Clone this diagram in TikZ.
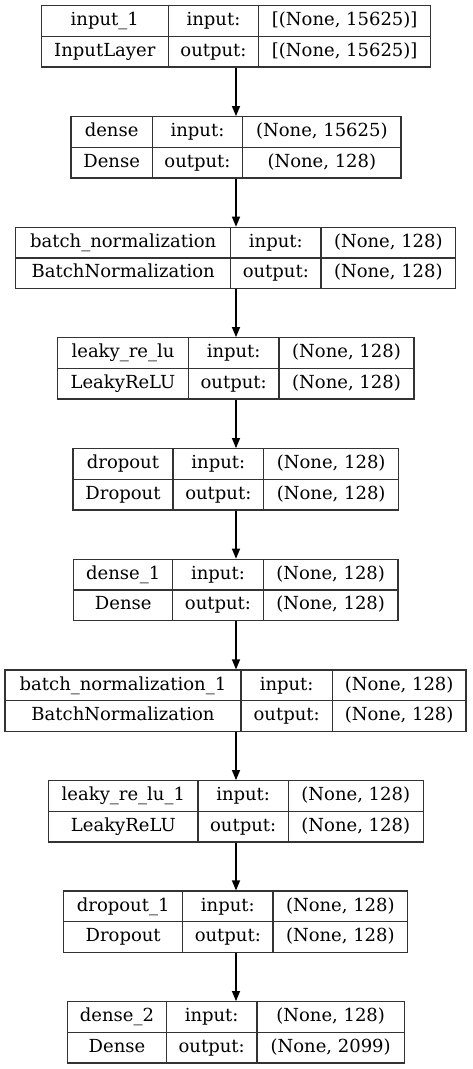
\documentclass[tikz,border=0pt]{standalone}
\usepackage{fontspec}
\setmainfont{DejaVu Serif}
\usetikzlibrary{arrows.meta}
\definecolor{edge}{HTML}{333333}
\tikzset{
  layerbox/.style={draw=edge, line width=1.2pt, minimum height=61.3pt, inner sep=0pt},
  cell/.style={inner sep=0pt, font=\fontsize{18}{21}\selectfont, text=black},
  flow/.style={draw=black, line width=1.2pt, -{Triangle[length=10pt,width=8pt]}}
}
\begin{document}
\begin{tikzpicture}[x=1pt,y=-1pt]
\useasboundingbox[fill=white] (0,0) rectangle (472,1069);
\foreach \i/\t/\xa/\xb/\xc/\xd/\nm/\ty/\vin/\vout in {
 1/5.7/41.3/168.3/258.7/430.7/input\_1/InputLayer/{[(None, 15625)]}/{[(None, 15625)]},
 2/116.7/71/152.3/242.7/401/dense/Dense/{(None, 15625)}/{(None, 128)},
 3/227.3/15.7/230.7/321/455.7/batch\_normalization/BatchNormalization/{(None, 128)}/{(None, 128)},
 4/337.7/57.7/188.3/279/414/leaky\_re\_lu/LeakyReLU/{(None, 128)}/{(None, 128)},
 5/448.7/73/173/263.7/398.7/dropout/Dropout/{(None, 128)}/{(None, 128)},
 6/559.3/73.7/172.7/263.3/398/dense\_1/Dense/{(None, 128)}/{(None, 128)},
 7/670/5/241/332.3/466/batch\_normalization\_1/BatchNormalization/{(None, 128)}/{(None, 128)},
 8/780.7/48.7/198/288.3/423.3/leaky\_re\_lu\_1/LeakyReLU/{(None, 128)}/{(None, 128)},
 9/891/63.7/182.7/273/407.7/dropout\_1/Dropout/{(None, 128)}/{(None, 128)},
 10/1001.7/67.7/166.3/257/404.3/dense\_2/Dense/{(None, 128)}/{(None, 2099)}}
{
  \node[layerbox, minimum width={\xd-\xa}] (L\i) at ({(\xa+\xd)/2},{\t+30.65}) {};
  \draw[edge, line width=1.2pt] (\xa,\t+30.65) -- (\xd,\t+30.65)
     (\xb,\t) -- (\xb,\t+61.3) (\xc,\t) -- (\xc,\t+61.3);
  \node[cell] (N\i) at ({(\xa+\xb)/2},{\t+16}) {\strut\nm};
  \node[cell] (T\i) at ({(\xa+\xb)/2},{\t+46.4}) {\strut\ty};
  \node[cell] (I\i) at ({(\xb+\xc)/2},{\t+16}) {\strut input:};
  \node[cell] (O\i) at ({(\xb+\xc)/2},{\t+46.4}) {\strut output:};
  \node[cell] (V\i) at ({(\xc+\xd)/2},{\t+16}) {\strut\vin};
  \node[cell] (W\i) at ({(\xc+\xd)/2},{\t+46.4}) {\strut\vout};
}
\foreach \i [evaluate=\i as \j using int(\i+1)] in {1,...,9}
  \draw[flow] (L\i.south -| 236,0) -- (L\j.north -| 236,0);
\end{tikzpicture}
\end{document}
